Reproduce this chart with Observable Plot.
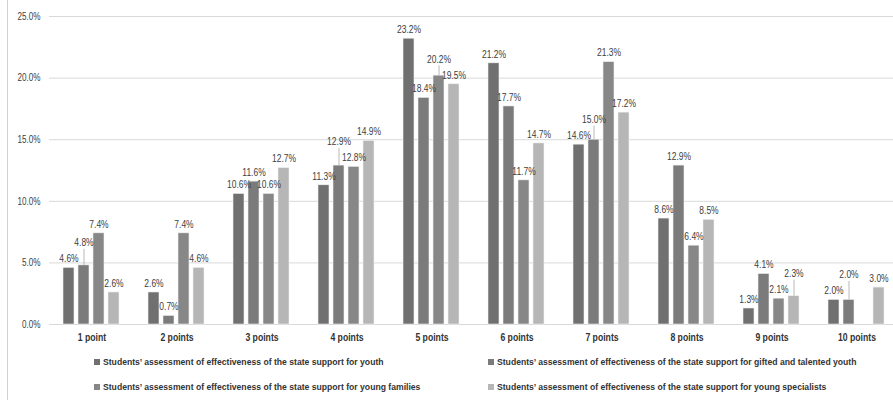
<!DOCTYPE html>
<html>
<head>
<meta charset="utf-8">
<script src="https://cdn.jsdelivr.net/npm/d3@7"></script>
<script src="https://cdn.jsdelivr.net/npm/@observablehq/plot@0.6"></script>
<style>
  html, body { margin: 0; padding: 0; background: #fff; }
  #wrap { position: relative; width: 893px; height: 400px; overflow: hidden;
          font-family: "Liberation Sans", Arial, sans-serif; }
  #frame { position: absolute; left: 7px; top: 0; width: 1px; height: 400px; background: #d0d0d0; }
  #legend { position: absolute; left: 0; top: 350px; width: 893px; height: 50px; }
  .item { position: absolute; font-size: 9.5px; font-weight: bold; color: #333; white-space: nowrap; line-height: 12px; }
  .sw { display: inline-block; width: 6px; height: 6px; margin-right: 3px; vertical-align: 0px; }
  .lt { display: inline-block; transform-origin: 0 50%; }
</style>
</head>
<body>
<div id="wrap">
  <div id="chart"></div>
  <div id="frame"></div>
  <div id="legend"></div>
</div>
<script>
const categories = ["1 point", "2 points", "3 points", "4 points", "5 points", "6 points", "7 points", "8 points", "9 points", "10 points"];
const seriesNames = [
  "Students’ assessment of effectiveness of the state support for youth",
  "Students’ assessment of effectiveness of the state support for gifted and talented youth",
  "Students’ assessment of effectiveness of the state support for young families",
  "Students’ assessment of effectiveness of the state support for young specialists"
];
const youth      = [4.6, 2.6, 10.6, 11.3, 23.2, 21.2, 14.6, 8.6, 1.3, 2.0];
const gifted     = [4.8, 0.7, 11.6, 12.9, 18.4, 17.7, 15.0, 12.9, 4.1, 2.0];
const families   = [7.4, 7.4, 10.6, 12.8, 20.2, 11.7, 21.3, 6.4, 2.1, null];
const specialists= [2.6, 4.6, 12.7, 14.9, 19.5, 14.7, 17.2, 8.5, 2.3, 3.0];
const colors = ["#707070", "#7b7b7b", "#878787", "#b6b6b6"];
const yTicks = [0, 5, 10, 15, 20, 25];

const seriesValues = [youth, gifted, families, specialists];
const data = [];
categories.forEach((c, i) => {
  const group = [];
  seriesValues.forEach((vals, s) => {
    if (vals[i] != null) group.push({category: c, series: seriesNames[s], idx: s, value: vals[i], labelY: vals[i], lifted: false});
  });
  // simple label collision avoidance between bars standing side by side:
  // the higher (or later, on a tie) label is raised and joined to its bar by a leader line
  for (let j = 1; j < group.length; j++) {
    const a = group[j - 1], b = group[j];
    if (b.idx - a.idx !== 1) continue;
    if (Math.abs(a.labelY - b.labelY) < 0.9) {
      const up = b.value >= a.value ? b : a;
      const other = up === b ? a : b;
      up.labelY = other.labelY + 1.3;
      up.lifted = true;
    }
  }
  data.push(...group);
});
const lifted = data.filter(d => d.lifted);

const FONT = '"Liberation Sans", Arial, sans-serif';

const chart = Plot.plot({
  width: 893,
  height: 350,
  marginLeft: 47,
  marginRight: -7,
  marginTop: 16,
  marginBottom: 26,
  style: {fontFamily: FONT, fontSize: "10px", color: "#404040", background: "#fff"},
  fx: {domain: categories, padding: 0, label: null, axis: "bottom", tickSize: 0, tickPadding: 9},
  x: {domain: seriesNames, paddingInner: 0.236, paddingOuter: 0.83, axis: null},
  y: {domain: [0, 25], ticks: yTicks, tickFormat: d => d.toFixed(1) + "%", label: null, tickSize: 0, tickPadding: 9},
  color: {domain: seriesNames, range: colors},
  marks: [
    Plot.gridY(yTicks, {stroke: "#d9d9d9", strokeOpacity: 1, strokeWidth: 1}),
    Plot.barY(data, {fx: "category", x: "series", y: "value", fill: "series", stroke: "#f2f2f2", strokeWidth: 0.6}),
    Plot.ruleX(lifted, {fx: "category", x: "series", y1: "value", y2: d => d.labelY + 0.2, stroke: "#a6a6a6", strokeWidth: 0.8}),
    Plot.text(data, {fx: "category", x: "series", y: "labelY", text: d => d.value.toFixed(1) + "%", dy: -9, fill: "#404040", fontSize: 10.5})
  ]
});
document.getElementById("chart").appendChild(chart);

// narrow the lettering horizontally (the reference uses a condensed face)
function squeezeAll(nodes, refText, target, fallback) {
  const arr = Array.from(nodes);
  const ref = arr.find(n => n.textContent === refText) || arr[0];
  let k = fallback;
  if (ref) {
    const len = ref.getComputedTextLength();
    if (isFinite(len) && len > 0) k = target / len;
  }
  if (!isFinite(k) || k <= 0 || k > 1.5) k = fallback;
  arr.forEach(el => {
    const len = el.getComputedTextLength();
    if (isFinite(len) && len > 0) {
      el.setAttribute("textLength", (len * k).toFixed(2));
      el.setAttribute("lengthAdjust", "spacingAndGlyphs");
    }
  });
}
const catLabels = chart.querySelectorAll("g[aria-label='fx-axis tick label'] text");
catLabels.forEach(el => { el.setAttribute("font-weight", "bold"); el.setAttribute("fill", "#333"); });
squeezeAll(catLabels, "10 points", 38, 0.8);
squeezeAll(chart.querySelectorAll("g[aria-label='y-axis tick label'] text"), "25.0%", 23, 0.8);
squeezeAll(chart.querySelectorAll("g[aria-label='text'] text"), "23.2%", 24, 0.8);

// legend
const ctx = document.createElement("canvas").getContext("2d");
ctx.font = `bold 9.5px ${FONT}`;
let kLeg = 281 / ctx.measureText(seriesNames[0]).width;
if (!isFinite(kLeg) || kLeg <= 0 || kLeg > 1.5) kLeg = 0.8;

const legend = document.getElementById("legend");
const pos = [[94, 6], [488, 6], [94, 31], [488, 31]];
[0, 1, 2, 3].forEach((s, k) => {
  const div = document.createElement("div");
  div.className = "item";
  div.style.left = pos[k][0] + "px";
  div.style.top = pos[k][1] + "px";
  div.innerHTML = `<span class="sw" style="background:${colors[s]}"></span>`;
  const t = document.createElement("span");
  t.className = "lt";
  t.style.transform = `scaleX(${kLeg})`;
  t.textContent = seriesNames[s];
  div.appendChild(t);
  legend.appendChild(div);
});
</script>
</body>
</html>
